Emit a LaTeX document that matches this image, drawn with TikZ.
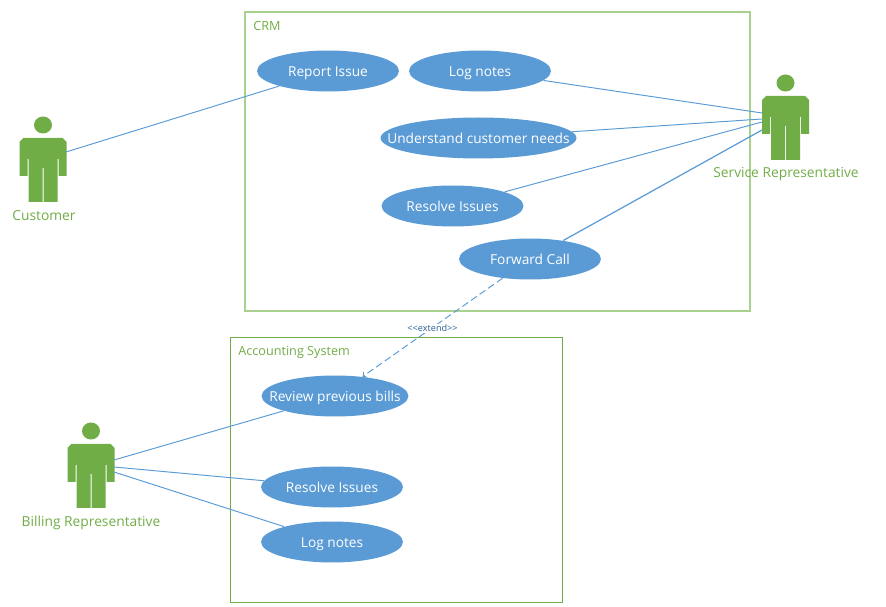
\documentclass[tikz,border=0pt]{standalone}
\usepackage{fontspec}
\setmainfont{Open Sans}
\usetikzlibrary{shapes.geometric}

\definecolor{usecaseblue}{HTML}{5B9BD5}
\definecolor{actorgreen}{HTML}{70AD47}
\definecolor{lightgreen}{HTML}{A9D18E}
\definecolor{extendblue}{HTML}{2E5F93}

\newcommand{\ucname}[1]{\makebox[0pt]{#1}}

\tikzset{
	usecase/.style={ellipse,fill=usecaseblue,text=white,minimum width=2.84cm,minimum height=0.82cm,inner sep=0pt,text height=5.7pt,text depth=0pt,font=\fontsize{7.8}{9}\selectfont},
	assoc/.style={usecaseblue,line width=0.55pt},
	sysbox/.style={actorgreen,line width=0.5pt},
	boxname/.style={text=actorgreen,anchor=west,inner sep=0pt,font=\fontsize{7.2}{8}\selectfont},
	actorname/.style={text=actorgreen,inner sep=0pt,font=\fontsize{7.85}{9}\selectfont},
	person/.pic={
		\fill[actorgreen] (0,0) ellipse (9 and 8.5);
		\fill[actorgreen] (-23.5,17) -- (-19.5,13) -- (19.5,13) -- (23.5,17) -- (23.5,51) -- (15.5,51) -- (15.5,34) -- (14.5,34) -- (14.5,77) -- (0.5,77) -- (0.5,43) -- (-0.5,43) -- (-0.5,77) -- (-14.5,77) -- (-14.5,34) -- (-15.5,34) -- (-15.5,51) -- (-23.5,51) -- cycle;
	}
}

\begin{document}
\begin{tikzpicture}[x=0.02cm,y=-0.02cm]
	\useasboundingbox (0,0) rectangle (886,607);

	% systems
	\draw[sysbox,lightgreen,line width=1.1pt] (245,12) rectangle (750,311);
	\node[boxname] (crm) at (253,26) {CRM};
	\draw[sysbox] (230.5,337.5) rectangle (562.5,602.5);
	\node[boxname] (accounting) at (238,352) {Accounting System};

	% actors
	\pic at (43,125) {person};
	\node[actorname] (customer) at (44,216) {Customer};
	\coordinate (customerarm) at (66,152);
	\pic at (785.5,83) {person};
	\node[actorname] (service) at (786,174) {Service Representative};
	\coordinate (servicea) at (762,113);
	\coordinate (serviceb) at (762,119);
	\coordinate (servicec) at (762,122);
	\coordinate (serviced) at (762,130);
	\pic at (91,431) {person};
	\node[actorname] (billing) at (91,522.5) {Billing Representative};
	\coordinate (billinga) at (114,460);
	\coordinate (billingb) at (114,467);
	\coordinate (billingc) at (114,472);

	% use cases
	\node[usecase] (report) at (328,71) {\ucname{Report Issue}};
	\node[usecase] (lognotes) at (480,71) {\ucname{Log notes}};
	\node[usecase,minimum width=3.92cm] (understand) at (478.5,138) {\ucname{Understand customer needs}};
	\node[usecase] (resolve) at (452.5,206) {\ucname{Resolve Issues}};
	\node[usecase] (forward) at (530,259) {\ucname{Forward Call}};
	\node[usecase,minimum width=2.94cm] (review) at (335,396) {\ucname{Review previous bills}};
	\node[usecase] (resolvebill) at (332,487) {\ucname{Resolve Issues}};
	\node[usecase] (logbill) at (332,542) {\ucname{Log notes}};

	% associations
	\draw[assoc] (customerarm) -- (report);
	\draw[assoc] (lognotes) -- (servicea);
	\draw[assoc] (understand) -- (serviceb);
	\draw[assoc] (resolve) -- (servicec);
	\draw[assoc,line width=0.7pt] (forward) -- (serviced);
	\draw[assoc] (billinga) -- (review);
	\draw[assoc] (billingb) -- (resolvebill);
	\draw[assoc] (billingc) -- (logbill);

	\draw[assoc,dash pattern=on 4pt off 2pt,->,>=to] (forward) -- node[fill=white,text=extendblue,inner sep=0.5pt,yshift=-0.5pt,font=\fontsize{5.2}{6}\selectfont] (extend) {{<}{<}extend{>}{>}} (review);
\end{tikzpicture}
\end{document}
